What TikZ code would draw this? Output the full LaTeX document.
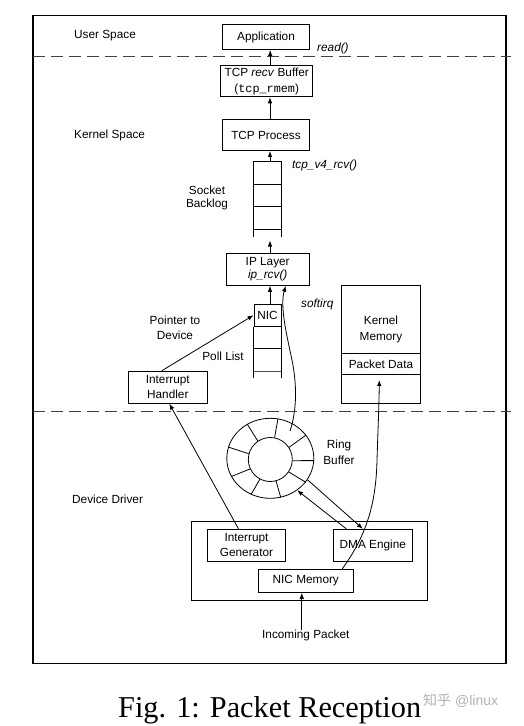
\documentclass[tikz,border=0pt]{standalone}
\usepackage{fontspec}
\setmainfont{Liberation Sans}
\setmonofont{Liberation Mono}
\newfontfamily\capfont{Liberation Serif}
\newfontfamily\cjkfont{Noto Sans CJK SC}
\usetikzlibrary{arrows.meta,shapes.geometric,calc}
\begin{document}
\begin{tikzpicture}[x=1pt,y=-1pt,
  every node/.style={font=\fontsize{11.8}{14}\selectfont, inner sep=0pt},
  box/.style={draw, line width=0.9pt, minimum width=#1, align=center},
  lbl/.style={align=center},
  conn/.style={line width=0.8pt, -{Latex[length=6pt,width=4.5pt]}},
  plain/.style={line width=0.8pt},
  sep/.style={dashed, dash pattern=on 12pt off 6pt, line width=0.8pt, black!75},
  cell/.style={line width=0.9pt}
]
\useasboundingbox (0,0) rectangle (524,726);
\fill[white] (0,0) rectangle (524,726);

% frame and separators
\draw[line width=1.1pt] (33,15.7) rectangle (506,663.3);
\draw[sep] (33,56) -- (511,56);
\draw[sep] (33,411) -- (511,411);

% section labels
\node[anchor=west] (us) at (74,36) {User Space};
\node[anchor=west] (ks) at (74,135) {Kernel Space};
\node[anchor=west] (dd) at (72,499) {Device Driver};

% main column
\node[box=87pt, minimum height=25pt] (app) at (266,37) {Application};
\node[anchor=west] (read) at (317,48) {\itshape read()};
\node[box=92pt, minimum height=31pt, font=\fontsize{11.8}{15.5}\selectfont] (buf) at (266.7,81.3) {TCP \textit{recv} Buffer\\(\texttt{tcp\_rmem})};
\node[box=87pt, minimum height=31pt] (tcp) at (266,135) {TCP Process};
\node[anchor=west] (v4) at (292,165.7) {\itshape tcp\_v4\_rcv()};

% socket backlog stack
\node[minimum width=27pt, minimum height=75pt] (sb) at (267.5,199.5) {};
\draw[cell] (sb.south west) -- (sb.north west) -- (sb.north east) -- (sb.south east);
\draw[cell] (254,184.3) -- (281,184.3);
\draw[cell] (254,206.7) -- (281,206.7);
\draw[cell] (254,229) -- (281,229);
\node[lbl, font=\fontsize{11.8}{13.5}\selectfont] (sbl) at (207,198) {Socket\\Backlog};

\node[box=83pt, minimum height=32pt, font=\fontsize{11.8}{13}\selectfont] (ip) at (267.7,269.3) {IP Layer\\\textit{ip\_rcv()}};

% poll list stack
\node[draw, line width=0.9pt, minimum width=27pt, minimum height=21.7pt] (nic) at (267.5,315.2) {NIC};
\coordinate (plb) at (267.5,378.3);
\draw[cell] (nic.south west) -- (nic.south west |- plb);
\draw[cell] (nic.south east) -- (nic.south east |- plb);
\draw[cell] (254,348.3) -- (281,348.3);
\draw[cell, black!70] (254,371) -- (281,371);
\node[lbl] (pll) at (223,356) {Poll List};
\node[lbl, font=\fontsize{11.8}{15}\selectfont] (ptd) at (175,328) {Pointer to\\Device};
\node[anchor=west] (sirq) at (301,304) {\itshape softirq};

\node[box=79pt, minimum height=32pt, font=\fontsize{11.8}{14.7}\selectfont] (ih) at (167.8,387.2) {Interrupt\\Handler};

% kernel memory
\node[draw, line width=0.9pt, minimum width=78.6pt, minimum height=118pt] (km) at (381,344.3) {};
\node[lbl, font=\fontsize{11.8}{15.6}\selectfont] (kmt) at (381,329.5) {Kernel\\Memory};
\node[draw, line width=0.9pt, minimum width=78.6pt, minimum height=21pt] (pd) at (381,363.8) {Packet Data};

% ring buffer
\node[draw, ellipse, line width=0.8pt, minimum width=87pt, minimum height=80pt] (ring) at (270.3,458.3) {};
\node[draw, circle, line width=0.8pt, minimum size=44pt] (ringin) at (270.3,459.5) {};
\foreach \a in {124,79,33,-3,-34,-75,-118,-155,165}
  \draw[plain] (ringin.\a) -- (ring.\a);
\node[lbl, font=\fontsize{11.8}{15.6}\selectfont] (rbl) at (339,452) {Ring\\Buffer};

% NIC hardware
\node[draw, line width=0.9pt, minimum width=236pt, minimum height=78.7pt] (nicbox) at (309.7,560.7) {};
\node[box=78.4pt, minimum height=32pt, font=\fontsize{11.8}{14.7}\selectfont] (ig) at (246.5,545.3) {Interrupt\\Generator};
\node[box=79pt, minimum height=32pt] (dma) at (372.8,545.3) {DMA Engine};
\node[box=95pt, minimum height=23pt] (nicmem) at (305.8,580.8) {NIC Memory};
\node[lbl] (inc) at (305.8,635.7) {Incoming Packet};

% connectors
\draw[conn] ([xshift=3.5pt]buf.north) -- ([xshift=3.5pt]buf.north |- app.south);
\draw[conn] ([xshift=4pt]tcp.north) -- ([xshift=4pt]tcp.north |- buf.south);
\draw[conn] ([xshift=2.5pt]sb.north) -- ([xshift=2.5pt]sb.north |- tcp.south);
\coordinate (sbtip) at (270,240.5);
\draw[conn] (sbtip |- ip.north) -- (sbtip);
\draw[conn] ([xshift=2.5pt]nic.north) -- ([xshift=2.5pt]nic.north |- ip.south);

\coordinate (sq) at (290,431);
\draw[conn] (sq) .. controls (297,410) and (297,385) .. (292,360)
  .. controls (286,332) and (280,306) .. ([xshift=18pt]ip.south);

\draw[conn] ([xshift=-6pt]ih.north) -- (nic.west);
\draw[conn] ([xshift=-8pt]ig.north) -- ([xshift=1.5pt]ih.south);

\coordinate (pdt) at (379.3,380);
\draw[conn] ([xshift=-11.5pt]nicmem.north east) .. controls (366,536) and (376,505) .. (377,460)
  .. controls (378,430) and (379,405) .. (pdt);

\draw[conn] ([xshift=13.5pt]dma.north west) -- (ring.-50);
\draw[conn] (ring.-30) -- ([xshift=30pt]dma.north west);

\draw[conn] ([xshift=-4pt]inc.north) -- ([xshift=-4pt]nicmem.south);

% caption
\node[anchor=base west, font=\fontsize{30.3}{32}\capfont] (cap) at (118,717) {Fig. 1: Packet Reception};
\node[anchor=west, text=black!30, font=\fontsize{14}{16}\selectfont] (wm) at (423,701) {{\cjkfont 知乎} @linux};
\end{tikzpicture}
\end{document}
